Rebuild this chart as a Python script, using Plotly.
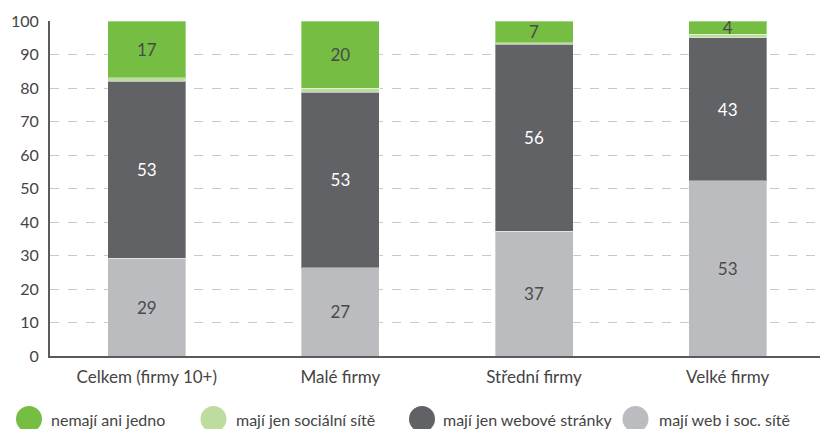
import plotly.graph_objects as go

categories = ["Celkem (firmy 10+)", "Malé firmy", "Střední firmy", "Velké firmy"]

series_names = ["mají web i soc. sítě", "mají jen webové stránky", "mají jen sociální sítě", "nemají ani jedno"]

web_i_soc = [29.2, 26.3, 37.3, 52.3]
jen_web = [52.8, 52.5, 55.7, 42.7]
jen_soc = [1.1, 1.2, 0.5, 1.0]
nic = [16.9, 20.0, 6.5, 4.0]

web_i_soc_labels = ["29", "27", "37", "53"]
jen_web_labels = ["53", "53", "56", "43"]
jen_soc_labels = ["", "", "", ""]
nic_labels = ["17", "20", "7", "4"]

colors = ["#BBBCC0", "#616265", "#BCDD9F", "#76BD43"]
text_colors = ["#4a4a4a", "#ffffff", "#4a4a4a", "#4a4a4a"]

FONT = "Lato"

fig = go.Figure()
for name, vals, labels, col, tcol in zip(
    series_names,
    [web_i_soc, jen_web, jen_soc, nic],
    [web_i_soc_labels, jen_web_labels, jen_soc_labels, nic_labels],
    colors,
    text_colors,
):
    fig.add_trace(go.Bar(
        x=categories, y=vals, name=name,
        marker=dict(color=col, line=dict(color="rgba(255,255,255,0.35)", width=1)),
        text=labels, textposition="inside", insidetextanchor="middle", textangle=0,
        textfont=dict(family=FONT, size=17, color=tcol),
        showlegend=False, hoverinfo="x+y+name",
    ))

# legend drawn as circles + text (order as in reference)
legend_order = [3, 2, 1, 0]
circle_cx = [29, 213.5, 422, 635.5]
text_x = [50, 235, 442, 658]
plot_left, plot_w = 50, 770
plot_bottom, plot_h = 356, 335
leg_y_px = 419
yc = (plot_bottom - leg_y_px) / plot_h
for idx, cx, tx in zip(legend_order, circle_cx, text_x):
    fig.add_shape(
        type="circle", xref="paper", yref="paper",
        xsizemode="pixel", ysizemode="pixel",
        xanchor=(cx - plot_left) / plot_w, yanchor=yc,
        x0=-13, x1=13, y0=-13, y1=13,
        fillcolor=colors[idx], line=dict(width=0),
    )
    fig.add_annotation(
        xref="paper", yref="paper", x=(tx - plot_left) / plot_w, y=yc,
        xanchor="left", yanchor="middle", showarrow=False,
        text=series_names[idx], font=dict(family=FONT, size=16, color="#444444"),
        borderpad=0,
    )

fig.update_layout(
    barmode="stack",
    bargap=0.597,
    width=820, height=429,
    margin=dict(l=50, r=0, t=21, b=73),
    plot_bgcolor="white", paper_bgcolor="white",
    font=dict(family=FONT, size=16, color="#444444"),
    uniformtext=dict(minsize=17, mode="show"),
    xaxis=dict(
        range=[-0.5, 3.477], showline=True, linecolor="#5a5b5e", linewidth=2,
        ticks="", ticklabelstandoff=5, tickfont=dict(family=FONT, size=17, color="#444444"),
        showgrid=False, fixedrange=True,
    ),
    yaxis=dict(
        range=[0, 100], dtick=10, showline=True, linecolor="#5a5b5e", linewidth=2,
        showgrid=True, gridcolor="#c8c8c8", gridwidth=1, griddash="dash",
        zeroline=False, ticks="", ticklabelstandoff=6, fixedrange=True,
        tickfont=dict(family=FONT, size=16, color="#444444"),
    ),
)

fig.write_html("out.html", config={"displayModeBar": False},
               post_script="document.body.style.margin='0';")
